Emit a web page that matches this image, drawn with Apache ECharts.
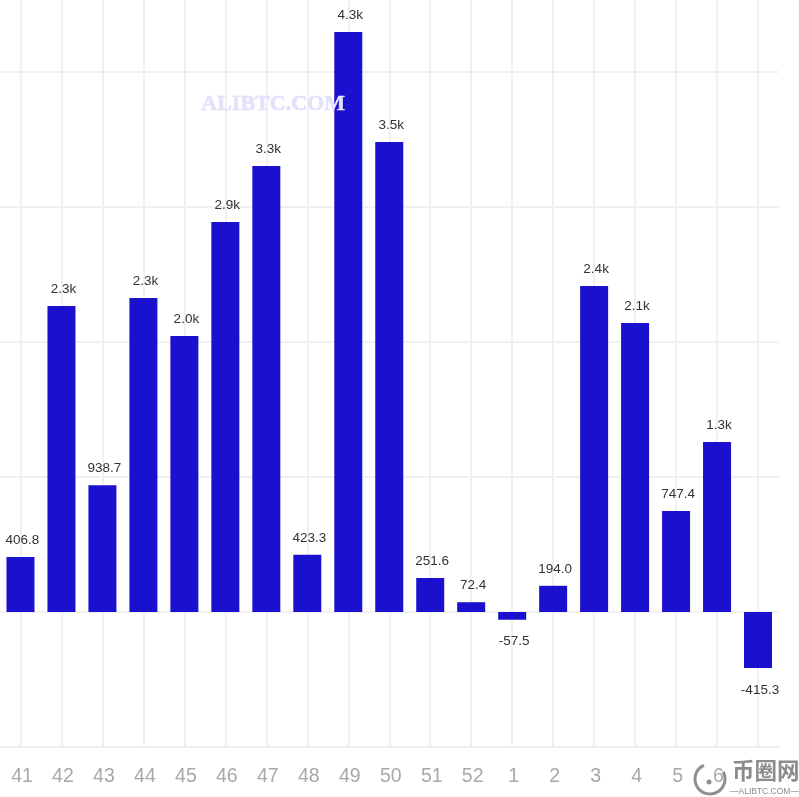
<!DOCTYPE html>
<html><head><meta charset="utf-8">
<style>html,body{margin:0;padding:0;background:#fff}#c{width:799px;height:797px}</style>
<script src="https://cdn.jsdelivr.net/npm/echarts@6/dist/echarts.min.js"></script>
</head><body><div id="c"></div>
<script>
const categories = ['41','42','43','44','45','46','47','48','49','50','51','52','1','2','3','4','5','6','7'];
const netValues = [406.8,2267,938.7,2326,2044,2889,3304,423.3,4296,3481,251.6,72.4,-57.5,194.0,2415,2140,747.4,1259,-415.3];

function fmt(v){ return Math.abs(v) >= 1000 ? (v/1000).toFixed(1)+'k' : v.toFixed(1); }
const chart = echarts.init(document.getElementById('c'), null, {renderer:'canvas'});
chart.setOption({
  animation:false,
  backgroundColor:'#fff',
  textStyle:{fontFamily:'Liberation Sans'},
  grid:{left:-0.5,right:20.5,top:0,bottom:50,containLabel:false},
  xAxis:{
    type:'category',data:categories,
    axisTick:{show:false},
    axisLine:{show:true,onZero:false,lineStyle:{color:'#eeeeee',width:2}},
    axisLabel:{color:'#a8a8a8',fontSize:19.5,margin:20,interval:0,padding:[0,0,0,3],fontFamily:'Liberation Sans'},
    splitLine:{show:true,alignWithLabel:true,interval:0,lineStyle:{color:'#f0f0f0',width:2}}
  },
  yAxis:{
    type:'value',min:-1000,max:4533,interval:1000,
    axisLine:{show:false},axisTick:{show:false},axisLabel:{show:false},
    splitLine:{show:true,showMaxLine:false,lineStyle:{color:'#f0f0f0',width:2}}
  },
  series:[{
    type:'bar',barWidth:28,
    data:netValues.map(v=>({value:v,label:{distance:v<0?15:9.5}})),
    itemStyle:{color:'#1c10cf'},
    label:{show:true,position:'outside',offset:[2,0],color:'#333',fontSize:13.5,fontFamily:'Liberation Sans',
      formatter:p=>fmt(p.value)}
  }],
  graphic:[
    {type:'text',left:201,top:93,z:50,style:{text:'ALIBTC.COM',font:'bold 22px "Liberation Serif"',fill:'#e4e2fb',stroke:'#dcdafa',lineWidth:0.6,shadowBlur:2,shadowColor:'#a9a4ee'}},
    {type:'rect',left:728,top:760,z:50,shape:{width:71,height:37},style:{fill:'#fff'}},
    {type:'arc',z:51,shape:{cx:710,cy:779,r:15,startAngle:-0.5,endAngle:4.3},style:{fill:'none',stroke:'#8f8f8f',lineWidth:3}},
    {type:'circle',z:51,shape:{cx:709,cy:782,r:2.5},style:{fill:'#8f8f8f'}},
    {type:'text',left:732,top:759,z:51,style:{text:'币圈网',font:'bold 22.5px "Noto Sans CJK SC"',fill:'#8c8c8c'}},
    {type:'text',left:730,top:787,z:51,style:{text:'—ALIBTC.COM—',font:'8.5px "Liberation Sans"',fill:'#8c8c8c'}}
  ]
});
</script></body></html>
